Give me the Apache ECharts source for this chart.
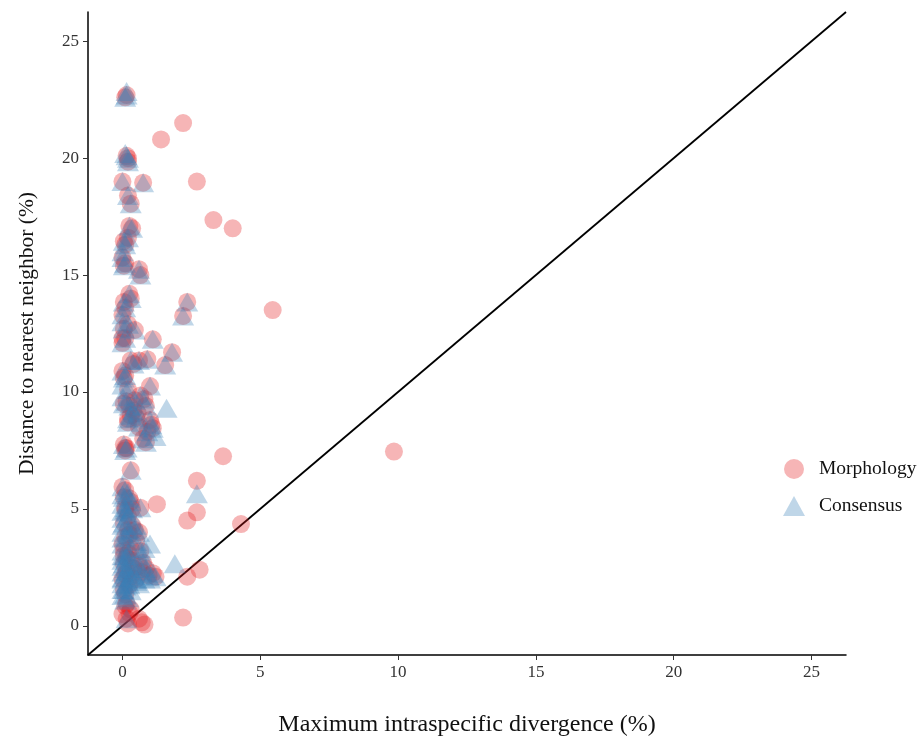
<!DOCTYPE html>
<html>
<head>
<meta charset="utf-8">
<script src="https://cdn.jsdelivr.net/npm/echarts@6/dist/echarts.min.js"></script>
<style>
  html, body { margin: 0; padding: 0; background: #fff; }
  #chartBox { width: 921px; height: 738px; }
</style>
</head>
<body>
<div id="chartBox"></div>
<script>
// points where both methods agree (circle + triangle)
const shared = [
  [0.15, 22.7], [0.15, 20.1], [0.2, 19.85], [0, 19.0], [0.75, 18.95], [0.2, 18.4], [0.3, 18.05],
  [0.25, 17.1], [0.2, 16.6], [0.05, 16.45], [0, 15.75], [0.1, 15.5], [0.6, 15.25], [0.65, 15.0],
  [0.25, 14.2], [0.05, 13.85], [2.35, 13.85], [2.2, 13.25], [0, 13.3], [0.05, 12.7], [0.45, 12.65],
  [0, 12.1], [1.1, 12.25], [1.8, 11.7], [1.55, 11.15], [0.3, 11.35], [0.9, 11.4], [0, 10.9],
  [0.05, 10.6], [1.0, 10.25], [0.65, 9.85], [0.05, 9.5], [0.45, 9.65], [0.85, 9.4], [0.3, 9.0],
  [1.0, 8.8], [0.6, 8.5], [1.1, 8.45], [0.05, 7.75], [0.75, 8.0], [0.3, 6.65], [0, 5.95],
  [0.05, 5.5], [0.1, 5.05], [0.65, 5.05], [0.35, 4.3], [0.6, 4.0], [0, 3.5], [0.2, 3.1],
  [0.05, 2.65], [0.6, 2.55], [0.85, 2.45], [1.1, 2.25], [1.2, 2.1], [0, 2.0], [0.05, 1.55],
  [0.15, 0.3], [0.4, 9.2], [0.2, 8.7], [0.1, 7.5], [0.5, 3.6], [0.3, 2.8],
  [0.1, 22.6], [0.2, 20.0], [0.35, 17.0], [0.1, 16.3], [0.05, 15.4], [0.3, 14.0], [0.1, 13.6],
  [0.2, 12.9], [0.1, 12.3], [0.4, 11.2], [0.1, 10.7], [0.25, 9.4], [0.55, 9.1], [0.8, 9.7],
  [0.2, 8.85], [0.9, 8.3], [0.15, 7.6], [0.85, 7.85], [0.1, 5.8], [0.3, 5.3], [0.2, 4.7],
  [0.45, 4.1], [0.1, 3.8], [0.3, 3.3], [0.65, 3.2], [0.15, 2.9], [0.4, 2.45], [0.7, 2.3],
  [0.95, 2.15], [0.1, 2.2], [0.25, 1.75], [0.1, 1.35], [0.5, 2.0], [0.75, 2.7], [0.25, 3.9],
  [0.05, 4.4], [0.35, 5.0], [1.05, 8.6], [0.5, 8.9], [0.2, 10.1], [0.6, 11.35],
  [0.15, 2.35], [0.3, 2.1], [0.05, 3.0], [0.2, 4.1], [0.1, 4.95], [0.25, 5.45], [0.15, 9.6]
]
// morphology only
const morphOnly = [
  [2.2, 21.5], [1.4, 20.8], [2.7, 19.0], [3.3, 17.35], [4.0, 17.0], [5.45, 13.5], [9.85, 7.45],
  [3.65, 7.25], [2.7, 6.2], [1.25, 5.2], [2.7, 4.85], [2.35, 4.5], [4.3, 4.35], [2.8, 2.4],
  [2.35, 2.1], [2.2, 0.35], [0.1, 0.85], [0.3, 0.7], [0.8, 0.05], [0.6, 0.3], [0, 0.5],
  [0.2, 0.1], [0, 12.3], [0.1, 7.6], [0.05, 3.2], [0.25, 0.55], [0.15, 0.95], [0.7, 0.15]
]
// consensus only
const consOnly = [
  [0.15, 22.85], [1.6, 9.3], [2.7, 5.65], [1.9, 2.65], [1.0, 3.5], [1.2, 8.1], [0, 1.3],
  [0, 1.8], [0, 2.3], [0, 2.8], [0, 3.2], [0, 4.6], [0, 5.2], [0.3, 1.5], [0.5, 1.9],
  [0.15, 4.85], [0.4, 2.2], [0.7, 3.0], [0.1, 1.1], [0, 4.0], [0.2, 5.7], [0.8, 2.0],
  [0.2, 1.9], [0.4, 2.6], [0, 1.55], [0, 2.05], [0, 2.55], [0, 3.0], [0, 3.75], [0, 4.3],
  [0, 4.9], [0, 5.6], [0.1, 1.7], [0.1, 2.45], [0.2, 1.2], [0.6, 1.8], [1.0, 2.0],
  [0.5, 4.3], [0.8, 3.3], [0, 9.8], [0, 10.3], [0, 13.0], [0, 16.0], [0.1, 20.2]
]
const morphology = shared.concat(morphOnly)
const consensus = shared.concat(consOnly)
const refLine = [[-1.25, -1.25], [26.25, 26.25]]
const ticks = [0, 5, 10, 15, 20, 25]

const font = 'Liberation Serif'
let myChart = echarts.init(document.getElementById('chartBox'))
myChart.setOption({
  animation: false,
  textStyle: { fontFamily: font },
  grid: { left: 88, right: 75, top: 12, bottom: 83, outerBoundsMode: 'none' },
  legend: {
    orient: 'vertical',
    left: 778,
    top: 454,
    itemWidth: 22,
    itemHeight: 20,
    itemGap: 17,
    textStyle: { fontFamily: font, fontSize: 19.5, color: '#111', padding: [0, 0, 0, 9] },
    data: [
      { name: 'Morphology', icon: 'circle' },
      { name: 'Consensus', icon: 'triangle' }
    ]
  },
  xAxis: {
    type: 'value',
    min: -1.25,
    max: 26.25,
    name: 'Maximum intraspecific divergence (%)',
    nameLocation: 'middle',
    nameGap: 58,
    nameTextStyle: { fontFamily: font, fontSize: 24, color: '#111' },
    splitLine: { show: false },
    axisLine: { onZero: false, lineStyle: { color: '#000', width: 1.5 } },
    axisTick: { show: true, length: 5, lineStyle: { color: '#333' }, customValues: ticks },
    axisLabel: { fontFamily: font, fontSize: 17, color: '#333', margin: 9, customValues: ticks }
  },
  yAxis: {
    type: 'value',
    min: -1.25,
    max: 26.25,
    name: 'Distance to nearest neighbor (%)',
    nameLocation: 'middle',
    nameGap: 50,
    nameTextStyle: { fontFamily: font, fontSize: 21.5, color: '#111' },
    splitLine: { show: false },
    axisLine: { show: true, onZero: false, lineStyle: { color: '#000', width: 1.5 } },
    axisTick: { show: true, length: 5, lineStyle: { color: '#333' }, customValues: ticks },
    axisLabel: { fontFamily: font, fontSize: 17, color: '#333', margin: 9, customValues: ticks }
  },
  series: [
    {
      name: 'Morphology',
      type: 'scatter',
      symbol: 'circle',
      symbolSize: 18,
      itemStyle: { color: 'rgba(228,26,28,0.4)' },
      data: morphology
    },
    {
      name: 'Consensus',
      type: 'scatter',
      symbol: 'triangle',
      symbolSize: [22, 19],
      itemStyle: { color: 'rgba(55,126,184,0.4)' },
      data: consensus
    },
    {
      name: 'y=x',
      type: 'line',
      silent: true,
      symbol: 'none',
      lineStyle: { color: '#000', width: 1.8 },
      data: refLine,
      z: 1
    }
  ]
})
</script>
</body>
</html>
